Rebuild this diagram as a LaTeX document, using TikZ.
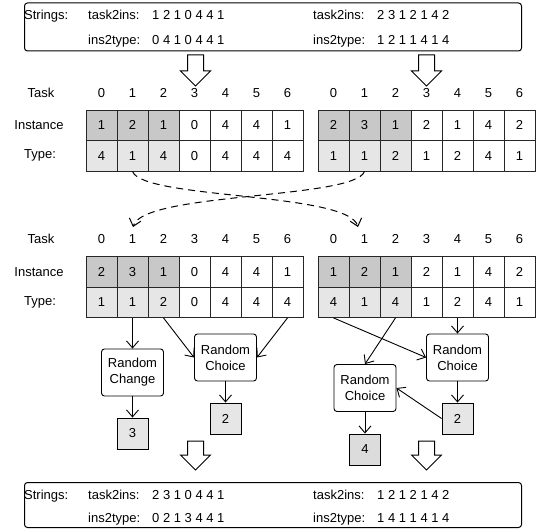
\documentclass[tikz,border=0pt]{standalone}
\usepackage{fontspec}
\setmainfont{Liberation Sans}
\usetikzlibrary{arrows.meta}
\definecolor{darkcell}{HTML}{C8C8C8}
\definecolor{lightcell}{HTML}{E6E6E6}
\definecolor{midcell}{HTML}{DCDCDC}
\tikzset{
 cellbox/.style={draw=black!85, line width=0.8pt, minimum width=31pt, minimum height=30.5pt, inner sep=0pt},
 lbl/.style={inner sep=0pt},
 txt/.style={inner sep=0pt, anchor=base west},
 conn/.style={-{Straight Barb[length=7pt,width=12pt]}, line width=0.9pt},
 dconn/.style={conn, dash pattern=on 7pt off 5pt, line width=1pt},
 rbox/.style={draw, line width=0.9pt, rounded corners=3pt, fill=white, minimum width=62pt, minimum height=47pt, align=center, inner sep=1pt, font=\fontsize{13}{16}\selectfont},
 vbox/.style={draw, line width=0.9pt, fill=lightcell, minimum width=31pt, minimum height=31pt, inner sep=0pt},
 sbox/.style={draw, line width=1pt, rounded corners=3pt},
 hollow/.style={draw, line width=1pt, fill=white, line join=miter},
}
\newcommand\cellrow[5]{\foreach \v [count=\i from 0] in {#5} {\ifnum\i<3 \def\fc{#4}\else\def\fc{white}\fi \node[cellbox, fill=\fc] (#1\i) at ({#2+15.5+31*\i}, #3) {\v};}}
\newcommand\heads[3]{\foreach \i in {0,...,6} {\node[lbl] (#1\i) at ({#2+15.5+31*\i}, #3) {\i};}}
\newcommand\hollowarrow[4]{\draw[hollow] ({#1-8},#2) -- ({#1+8},#2) -- ({#1+8},#3) -- ({#1+15},#3) -- (#1,#4) -- ({#1-15},#3) -- ({#1-8},#3) -- cycle;}
\begin{document}
\begin{tikzpicture}[x=1pt,y=-1pt, font=\fontsize{13}{16}\selectfont]
\useasboundingbox (0,0) rectangle (537,529);
% top strings box
\node[sbox, minimum width=497pt, minimum height=48pt, anchor=north west] (topbox) at (24,2.5) {};
\node[txt] (ts0) at (24,19.5) {Strings:};
\node[txt] (ts1) at (88,19.5) {task2ins:};
\node[txt] (ts2) at (152,19.5) {1 2 1 0 4 4 1};
\node[txt] (ts3) at (313,19.5) {task2ins:};
\node[txt] (ts4) at (377,19.5) {2 3 1 2 1 4 2};
\node[txt] (ts5) at (88,45) {ins2type:};
\node[txt] (ts6) at (152,45) {0 4 1 0 4 4 1};
\node[txt] (ts7) at (313,45) {ins2type:};
\node[txt] (ts8) at (377,45) {1 2 1 1 4 1 4};
\hollowarrow{195.5}{55}{71}{86}
\hollowarrow{426.5}{55}{71}{86}
% top tables
\node[lbl] (tk1) at (41,93) {Task};
\node[lbl] (in1) at (39,125.25) {Instance};
\node[lbl] (ty1) at (40,155.75) {Type:};
\heads{hA}{86}{93}
\heads{hB}{318}{93}
\cellrow{A1i}{86}{125.25}{darkcell}{1,2,1,0,4,4,1}
\cellrow{A1t}{86}{155.75}{lightcell}{4,1,4,0,4,4,4}
\cellrow{A2i}{318}{125.25}{darkcell}{2,3,1,2,1,4,2}
\cellrow{A2t}{318}{155.75}{lightcell}{1,1,2,1,2,4,1}
% crossing
\coordinate (dL) at (133,227);
\coordinate (dR) at (358,227);
\draw[dconn] (A1t1.south) .. controls +(10,28) and +(-10,-35) .. (dR);
\draw[dconn] (A2t1.south) .. controls +(-10,28) and +(10,-35) .. (dL);
% second tables
\node[lbl] (tk2) at (41,239) {Task};
\node[lbl] (in2) at (39,271.75) {Instance};
\node[lbl] (ty2) at (40,302.25) {Type:};
\heads{hC}{86}{239}
\heads{hD}{318}{239}
\cellrow{B1i}{86}{271.75}{darkcell}{2,3,1,0,4,4,1}
\cellrow{B1t}{86}{302.25}{lightcell}{1,1,2,0,4,4,4}
\cellrow{B2i}{318}{271.75}{darkcell}{1,2,1,2,1,4,2}
\cellrow{B2t}{318}{302.25}{lightcell}{4,1,4,1,2,4,1}
% operations
\node[rbox] (rcg) at (132.5,372.5) {Random\\Change};
\node[rbox] (rc1) at (225.5,357.5) {Random\\Choice};
\node[vbox] (v3) at (132.5,433.5) {3};
\node[vbox] (v2a) at (225.5,418.5) {2};
\node[rbox] (rc2) at (457.5,357.5) {Random\\Choice};
\node[rbox] (rc3) at (365,388) {Random\\Choice};
\node[vbox] (v2b) at (457.5,418.5) {2};
\node[vbox, fill=midcell] (v4) at (365,449.5) {4};
\draw[conn] (B1t1.south) -- (rcg.north);
\draw[conn] (rcg.south) -- (v3.north);
\draw[conn] (B1t2.south) -- (rc1.west);
\draw[conn] (B1t6.south) -- (rc1.east);
\draw[conn] (rc1.south) -- (v2a.north);
\draw[conn] (B2t4.south) -- (rc2.north);
\draw[conn] (B2t0.south) -- (rc2.west);
\draw[conn] (B2t2.south) -- (rc3.north);
\draw[conn] (rc2.south) -- (v2b.north);
\draw[conn] (v2b.west) -- (rc3.east);
\draw[conn] (rc3.south) -- (v4.north);
\hollowarrow{195.5}{441}{455}{470}
\hollowarrow{426.5}{441}{455}{470}
% bottom strings box
\node[sbox, minimum width=497pt, minimum height=45pt, anchor=north west] (botbox) at (24,482) {};
\node[txt] (bs0) at (24,499.5) {Strings:};
\node[txt] (bs1) at (88,499.5) {task2ins:};
\node[txt] (bs2) at (152,499.5) {2 3 1 0 4 4 1};
\node[txt] (bs3) at (313,499.5) {task2ins:};
\node[txt] (bs4) at (377,499.5) {1 2 1 2 1 4 2};
\node[txt] (bs5) at (88,522.5) {ins2type:};
\node[txt] (bs6) at (152,522.5) {0 2 1 3 4 4 1};
\node[txt] (bs7) at (313,522.5) {ins2type:};
\node[txt] (bs8) at (377,522.5) {1 4 1 1 4 1 4};
\end{tikzpicture}
\end{document}
